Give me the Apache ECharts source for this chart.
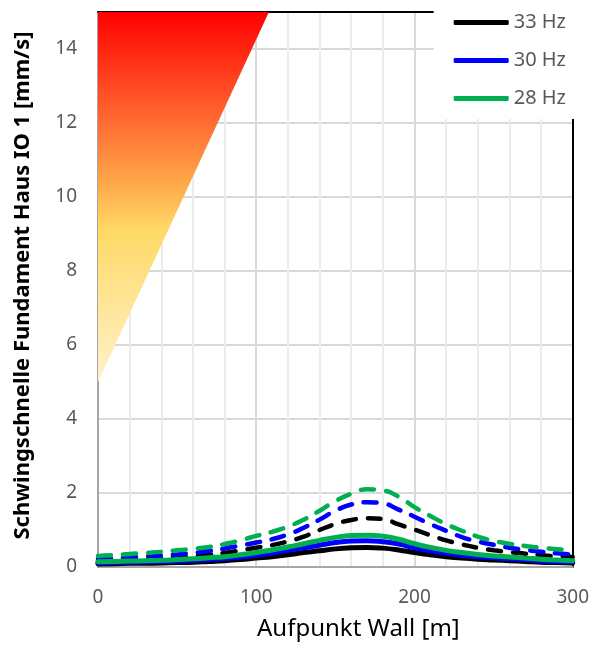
<!DOCTYPE html>
<html>
<head>
<meta charset="utf-8">
<script src="https://cdn.jsdelivr.net/npm/echarts@6/dist/echarts.min.js"></script>
<style>
  html, body { margin: 0; padding: 0; background: #fff; }
  #main { width: 592px; height: 646px; }
</style>
</head>
<body>
<div id="main"></div>
<script>
// Aufpunkte entlang der Wall [m]
const xWall = [0, 10, 20, 30, 40, 50, 60, 70, 80, 90, 100, 110, 120, 130, 140, 150,
  160, 170, 180, 190, 200, 210, 220, 230, 240, 250, 260, 270, 280, 290, 300];

// durchgezogene Linien
const hz33 = [0.08, 0.09, 0.10, 0.10, 0.11, 0.12, 0.13, 0.15, 0.17, 0.20, 0.24, 0.28, 0.33, 0.39, 0.44, 0.49,
  0.52, 0.53, 0.51, 0.46, 0.39, 0.33, 0.28, 0.24, 0.21, 0.19, 0.17, 0.15, 0.13, 0.12, 0.11];
const hz30 = [0.11, 0.12, 0.13, 0.14, 0.15, 0.16, 0.18, 0.20, 0.23, 0.27, 0.32, 0.38, 0.45, 0.52, 0.59, 0.66,
  0.70, 0.71, 0.68, 0.62, 0.52, 0.44, 0.37, 0.32, 0.28, 0.25, 0.22, 0.20, 0.17, 0.15, 0.14];
const hz28 = [0.14, 0.15, 0.16, 0.17, 0.18, 0.20, 0.22, 0.25, 0.28, 0.33, 0.39, 0.46, 0.54, 0.63, 0.72, 0.80,
  0.85, 0.86, 0.83, 0.75, 0.63, 0.53, 0.45, 0.39, 0.34, 0.30, 0.27, 0.24, 0.21, 0.19, 0.17];

// gestrichelte Linien
const hz33d = [0.17, 0.18, 0.20, 0.22, 0.24, 0.26, 0.29, 0.33, 0.38, 0.45, 0.52, 0.59, 0.69, 0.82, 1.00, 1.16,
  1.27, 1.32, 1.30, 1.15, 1.01, 0.86, 0.72, 0.61, 0.52, 0.45, 0.40, 0.36, 0.32, 0.29, 0.27];
const hz30d = [0.22, 0.24, 0.26, 0.29, 0.31, 0.34, 0.38, 0.43, 0.50, 0.58, 0.66, 0.75, 0.88, 1.06, 1.28, 1.52,
  1.69, 1.75, 1.72, 1.55, 1.36, 1.16, 0.98, 0.81, 0.69, 0.60, 0.52, 0.46, 0.41, 0.37, 0.34];
const hz28d = [0.30, 0.32, 0.35, 0.38, 0.41, 0.45, 0.49, 0.54, 0.62, 0.72, 0.84, 0.95, 1.09, 1.28, 1.52, 1.78,
  1.98, 2.10, 2.07, 1.90, 1.62, 1.38, 1.16, 0.98, 0.82, 0.71, 0.63, 0.57, 0.52, 0.48, 0.45];

// Warnbereich (Dreieck)
const warnX = [0, 0, 108];
const warnY = [5, 15, 15];

const legendNames = ['33 Hz', '30 Hz', '28 Hz'];
const yTicks = [0, 2, 4, 6, 8, 10, 12, 14];

const myChart = echarts.init(document.getElementById('main'));

const pairs = (arr) => xWall.map((x, i) => [x, arr[i]]);

const solid = (name, data, color) => ({
  name: name,
  type: 'line',
  data: pairs(data),
  smooth: true,
  showSymbol: false,
  lineStyle: { color: color, width: 5, cap: 'round' },
  itemStyle: { color: color },
  z: 5,
});
const dashed = (name, data, color) => ({
  name: name,
  type: 'line',
  data: pairs(data),
  smooth: true,
  showSymbol: false,
  lineStyle: { color: color, width: 4.5, type: [13, 12], cap: 'round' },
  itemStyle: { color: color },
  z: 3,
});

const option = {
  animation: false,
  textStyle: { fontFamily: 'Noto Sans' },
  grid: { left: 98, right: 19, top: 12, bottom: 79 },
  legend: {
    data: legendNames,
    orient: 'vertical',
    right: 0,
    top: 0,
    padding: [12, 26, 10, 20],
    backgroundColor: '#ffffff',
    icon: 'roundRect',
    itemWidth: 55,
    itemHeight: 5,
    itemGap: 17,
    selectedMode: false,
    textStyle: { color: '#595959', fontSize: 20, lineHeight: 21, padding: [0, 0, 0, 0] },
    z: 10,
  },
  xAxis: [
    {
      type: 'value',
      min: 0,
      max: 300,
      interval: 100,
      name: 'Aufpunkt Wall [m]',
      nameLocation: 'middle',
      nameGap: 50,
      nameTextStyle: { color: '#000', fontSize: 24, padding: [0, 0, 0, 46] },
      axisLine: { show: true, lineStyle: { color: '#a6a6a6', width: 2 } },
      axisTick: { show: false },
      axisLabel: { color: '#595959', fontSize: 19, margin: 21 },
      splitLine: { show: true, lineStyle: { color: '#d9d9d9', width: 2 } },
      minorTick: { show: false, splitNumber: 5 },
      minorSplitLine: { show: true, lineStyle: { color: '#ececec', width: 2 } },
    },
    {
      type: 'value',
      position: 'top',
      min: 0,
      max: 300,
      axisLine: { show: true, onZero: false, lineStyle: { color: '#000', width: 2 } },
      axisTick: { show: false },
      axisLabel: { show: false },
      splitLine: { show: false },
    },
  ],
  yAxis: [
    {
      type: 'value',
      min: 0,
      max: 15,
      interval: 2,
      name: 'Schwingschnelle Fundament Haus IO 1 [mm/s]',
      nameLocation: 'middle',
      nameGap: 64,
      nameTextStyle: { color: '#000', fontSize: 22, fontWeight: 'bold', padding: [0, 0, 0, 8] },
      axisLine: { show: true, lineStyle: { color: '#a6a6a6', width: 2 } },
      axisTick: { show: false },
      axisLabel: {
        color: '#595959',
        fontSize: 19,
        margin: 21,
        showMaxLabel: false,
        formatter: (v) => (yTicks.indexOf(v) >= 0 ? String(v) : ''),
      },
      splitLine: { show: true, lineStyle: { color: '#d9d9d9', width: 2 } },
    },
    {
      type: 'value',
      position: 'right',
      min: 0,
      max: 15,
      axisLine: { show: true, onZero: false, lineStyle: { color: '#000', width: 2 } },
      axisTick: { show: false },
      axisLabel: { show: false },
      splitLine: { show: false },
    },
  ],
  series: [
    {
      name: 'Warnbereich',
      type: 'custom',
      data: [0],
      z: 1,
      silent: true,
      renderItem: (params, api) => {
        const pts = warnX.map((x, i) => api.coord([x, warnY[i]]));
        return {
          type: 'polygon',
          shape: { points: pts },
          style: {
            fill: new echarts.graphic.LinearGradient(0, 0, 0, 1, [
              { offset: 0, color: '#ff0000' },
              { offset: 0.25, color: '#ff5b2b' },
              { offset: 0.45, color: '#ffa347' },
              { offset: 0.59, color: '#ffd966' },
              { offset: 1, color: '#fff2cc' },
            ]),
          },
        };
      },
    },
    dashed('33 Hz gestrichelt', hz33d, '#000000'),
    dashed('30 Hz gestrichelt', hz30d, '#0000ff'),
    dashed('28 Hz gestrichelt', hz28d, '#00b050'),
    solid('33 Hz', hz33, '#000000'),
    solid('30 Hz', hz30, '#0000ff'),
    solid('28 Hz', hz28, '#00b050'),
  ],
};

myChart.setOption(option);
window.onresize = function () {
  myChart.resize();
};
</script>
</body>
</html>
